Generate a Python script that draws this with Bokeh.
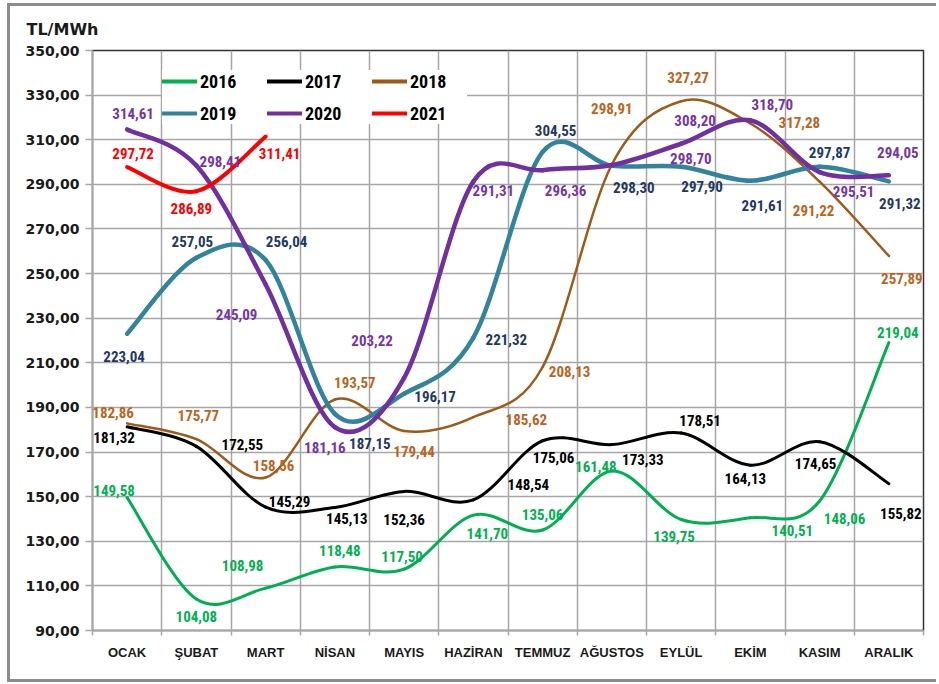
from bokeh.plotting import figure
from bokeh.models import Range1d, FixedTicker, Legend, LegendItem, ColumnDataSource
from bokeh.core.properties import value
from bokeh.embed import file_html
from bokeh.resources import INLINE

months = ["OCAK", "ŞUBAT", "MART", "NİSAN", "MAYIS", "HAZİRAN", "TEMMUZ",
          "AĞUSTOS", "EYLÜL", "EKİM", "KASIM", "ARALIK"]
years = ["2016", "2017", "2018", "2019", "2020", "2021"]
y2016 = [149.58, 104.08, 108.98, 118.48, 117.50, 141.70, 135.06, 161.48, 139.75, 140.51, 148.06, 219.04]
y2017 = [181.32, 172.55, 145.29, 145.13, 152.36, 148.54, 175.06, 173.33, 178.51, 164.13, 174.65, 155.82]
y2018 = [182.86, 175.77, 158.56, 193.57, 179.44, 185.62, 208.13, 298.91, 327.27, 317.28, 291.22, 257.89]
y2019 = [223.04, 257.05, 256.04, 187.15, 196.17, 221.32, 304.55, 298.30, 297.90, 291.61, 297.87, 291.32]
y2020 = [314.61, 298.41, 245.09, 181.16, 203.22, 291.31, 296.36, 298.70, 308.20, 318.70, 295.51, 294.05]
y2021 = [297.72, 286.89, 311.41]
y_ticks = list(range(90, 351, 20))

series = [y2016, y2017, y2018, y2019, y2020, y2021]
line_colors = ["#00B050", "#000000", "#9E5A17", "#31849B", "#7030A0", "#FF0000"]
label_colors = ["#00B050", "#000000", "#B8661E", "#1F3864", "#7535A8", "#FF0000"]
line_widths = [3, 3, 2.5, 4.5, 4.5, 4]

# label offsets in screen pixels (dx right, dy down)
offsets = [
    [(-13, -7), (0, 17), (-23, -23), (5, -16), (-2, -13), (14, 18), (0, -15), (-16, -5), (-7, 17), (42, 13), (25, 18), (9, -10)],
    [(-13, 11), (46, -2), (24, -6), (12, 11), (0, 28), (55, -15), (11, 17), (31, 15), (19, -13), (-5, 13), (-4, 22), (12, 30)],
    [(-14, -11), (2, -24), (8, -12), (20, -17), (10, 21), (53, 2), (27, 5), (0, -56), (7, -24), (49, -1), (-6, 29), (13, 23)],
    [(-3, 23), (-4, -16), (21, -19), (35, 30), (31, 3), (33, 2), (13, -21), (22, 22), (21, 20), (12, 25), (10, -14), (11, 22)],
    [(6, -16), (24, -4), (-29, 30), (-10, 20), (-32, -37), (20, 9), (23, 20), (79, -6), (14, -23), (22, -16), (34, 19), (9, -23)],
    [(6, -14), (-5, 17), (14, 17)],
]

LABEL_FONT = "Roboto Condensed, Roboto, sans-serif"
G = "linear-gradient(#8c8c8c,#8c8c8c)"

p = figure(width=936, height=682, output_backend="svg", toolbar_location=None,
           x_range=Range1d(0.5, 12.5), y_range=Range1d(90, 350),
           min_border_left=92, min_border_right=13, min_border_top=50, min_border_bottom=52,
           background_fill_color="white", border_fill_alpha=0)
p.styles = {
    "background": f"{G} 7px 3px / 3px 679px no-repeat, {G} 7px 3px / 929px 3px no-repeat, "
                  f"{G} 7px 679px / 929px 3px no-repeat, white"
}

p.title.text = "TL/MWh"
p.title.align = "left"
p.title.offset = -66
p.title.standoff = 24
p.title.text_font = "DejaVu Sans"
p.title.text_font_size = "16px"
p.title.text_font_style = "bold"
p.title.text_color = "#1a1a1a"

p.outline_line_color = "#333333"
p.outline_line_width = 1.5

# grids
p.xgrid.ticker = FixedTicker(ticks=[i + 0.5 for i in range(0, 13)])
p.ygrid.ticker = FixedTicker(ticks=y_ticks)
for g in (p.xgrid, p.ygrid):
    g.grid_line_color = "#a6a6a6"
    g.grid_line_width = 1.5

# x axis
xa = p.xaxis[0]
xa.ticker = FixedTicker(ticks=list(range(1, 13)), minor_ticks=[i + 0.5 for i in range(0, 13)])
xa.major_label_overrides = {i + 1: m for i, m in enumerate(months)}
xa.major_tick_line_color = None
xa.major_tick_out = 0
xa.major_tick_in = 0
xa.minor_tick_out = 5
xa.minor_tick_in = 0
xa.minor_tick_line_color = "#a6a6a6"
xa.minor_tick_line_width = 1.5
xa.axis_line_color = "#a6a6a6"
xa.axis_line_width = 1.5
xa.major_label_text_font = "Liberation Sans"
xa.major_label_text_font_style = "bold"
xa.major_label_text_font_size = "13px"
xa.major_label_text_color = "#1a1a1a"
xa.major_label_standoff = 9

ya = p.yaxis[0]
ya.ticker = FixedTicker(ticks=y_ticks)
ya.major_label_overrides = {t: f"{t:.2f}".replace(".", ",") for t in y_ticks}
ya.minor_tick_line_color = None
ya.major_tick_out = 7
ya.major_tick_in = 0
ya.major_tick_line_color = "#a6a6a6"
ya.major_tick_line_width = 1.5
ya.axis_line_color = "#a6a6a6"
ya.axis_line_width = 1.5
ya.major_label_text_font = "DejaVu Sans"
ya.major_label_text_font_style = "bold"
ya.major_label_text_font_size = "14px"
ya.major_label_text_color = "#1a1a1a"
ya.major_label_standoff = 6


def smooth_segments(xs, ys):
    n = len(xs)
    seg = dict(x0=[], y0=[], x1=[], y1=[], cx0=[], cy0=[], cx1=[], cy1=[])
    for i in range(n - 1):
        xp, yp = (xs[i - 1], ys[i - 1]) if i > 0 else (xs[i], ys[i])
        xn, yn = (xs[i + 2], ys[i + 2]) if i + 2 < n else (xs[i + 1], ys[i + 1])
        seg["x0"].append(xs[i]); seg["y0"].append(ys[i])
        seg["x1"].append(xs[i + 1]); seg["y1"].append(ys[i + 1])
        seg["cx0"].append(xs[i] + (xs[i + 1] - xp) / 6.0)
        seg["cy0"].append(ys[i] + (ys[i + 1] - yp) / 6.0)
        seg["cx1"].append(xs[i + 1] - (xn - xs[i]) / 6.0)
        seg["cy1"].append(ys[i + 1] - (yn - ys[i]) / 6.0)
    return seg


legend_items = []
for yr, vals, lc, lw in zip(years, series, line_colors, line_widths):
    xs = list(range(1, len(vals) + 1))
    src = ColumnDataSource(smooth_segments(xs, vals))
    p.bezier(x0="x0", y0="y0", x1="x1", y1="y1", cx0="cx0", cy0="cy0", cx1="cx1", cy1="cy1",
             source=src, line_color=lc, line_width=lw, line_cap="round")
    # single-point line: draws nothing on the plot, provides the legend sample
    sample = p.line(x=xs[:1], y=vals[:1], line_color=lc, line_width=4, line_cap="round")
    legend_items.append(LegendItem(label=yr, renderers=[sample]))

for vals, col, offs in zip(series, label_colors, offsets):
    xs = list(range(1, len(vals) + 1))
    src = ColumnDataSource(dict(
        x=xs, y=vals,
        t=[f"{v:.2f}".replace(".", ",") for v in vals],
        dx=[o[0] for o in offs], dy=[o[1] for o in offs]))
    p.text(x="x", y="y", text="t", x_offset="dx", y_offset="dy", source=src,
           text_color=col, text_font=value(LABEL_FONT), text_font_style="bold",
           text_font_size="15px", text_align="center", text_baseline="middle")

legend = Legend(items=legend_items, orientation="horizontal", ncols=3,
                location=(70, 506), background_fill_color="white", background_fill_alpha=1,
                border_line_color=None, padding=8, spacing=10, margin=0,
                glyph_width=35, glyph_height=22, label_height=22, label_width=57,
                label_standoff=3, label_text_font=LABEL_FONT,
                label_text_font_style="bold", label_text_font_size="18px",
                label_text_color="#000000")
p.add_layout(legend)

open("out.html", "w").write(file_html(p, INLINE))
